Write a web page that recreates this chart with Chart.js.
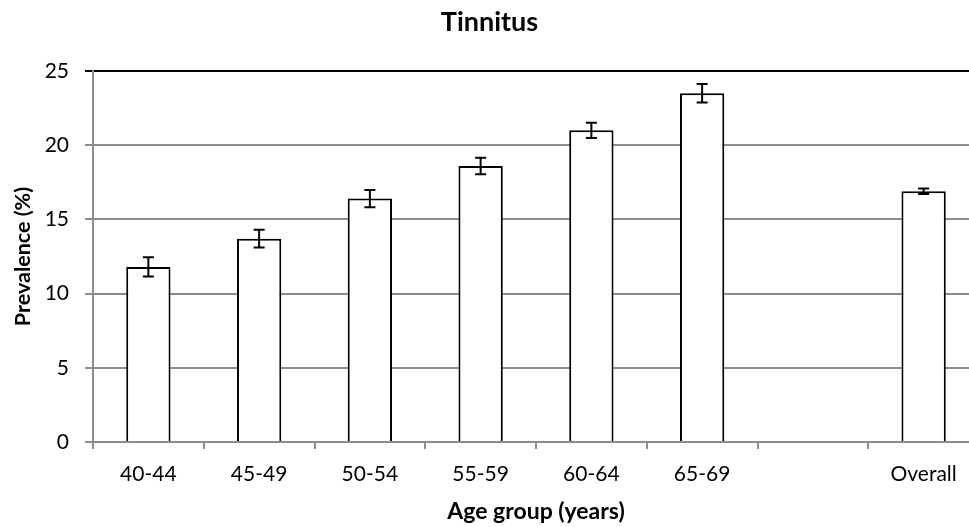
<!DOCTYPE html>
<html>
<head>
<meta charset="utf-8">
<script src="https://cdn.jsdelivr.net/npm/chart.js@4/dist/chart.umd.min.js"></script>
<style>
  html, body { margin: 0; padding: 0; background: #fff; overflow: hidden; }
  #wrap { width: 969px; height: 527px; overflow: hidden; }
</style>
</head>
<body>
<div id="wrap"><canvas id="chart" width="980" height="527"></canvas></div>
<script>
const categories = ["40-44", "45-49", "50-54", "55-59", "60-64", "65-69", "", "Overall"];
const prevalence = [11.8, 13.7, 16.4, 18.6, 21.0, 23.5, null, 16.9];
const errorMargin = [0.65, 0.6, 0.58, 0.56, 0.52, 0.63, null, 0.18];
const yTicks = [0, 5, 10, 15, 20, 25];

const FONT = "Lato, 'Open Sans', sans-serif";

// draws the I-shaped error bars on top of each bar
const errorBars = {
  id: "errorBars",
  afterDatasetsDraw(chart) {
    const ctx = chart.ctx;
    const meta = chart.getDatasetMeta(0);
    const y = chart.scales.y;
    ctx.save();
    ctx.strokeStyle = "#000";
    ctx.lineWidth = 2;
    meta.data.forEach((bar, i) => {
      const v = prevalence[i];
      const e = errorMargin[i];
      if (v == null || e == null) return;
      const top = y.getPixelForValue(v + e);
      const bottom = y.getPixelForValue(v - e);
      const cap = 5.5;
      ctx.beginPath();
      ctx.moveTo(bar.x, top);
      ctx.lineTo(bar.x, bottom);
      ctx.moveTo(bar.x - cap, top);
      ctx.lineTo(bar.x + cap, top);
      ctx.moveTo(bar.x - cap, bottom);
      ctx.lineTo(bar.x + cap, bottom);
      ctx.stroke();
    });
    ctx.restore();
  },
};

new Chart(document.getElementById("chart"), {
  type: "bar",
  data: {
    labels: categories,
    datasets: [
      {
        data: prevalence,
        backgroundColor: "#fff",
        borderColor: "#000",
        borderWidth: 2,
        borderSkipped: "start",
        barPercentage: 0.4,
        categoryPercentage: 1,
      },
    ],
  },
  options: {
    responsive: false,
    animation: false,
    layout: { padding: { left: 0, right: 1, top: 0, bottom: 0 } },
    plugins: {
      legend: { display: false },
      tooltip: { enabled: false },
      title: {
        display: true,
        text: "Tinnitus",
        color: "#000",
        font: { family: FONT, size: 27, weight: "bold", lineHeight: 1.2 },
        padding: { top: 6, bottom: 32.6 },
      },
    },
    scales: {
      x: {
        grid: {
          drawOnChartArea: false,
          drawTicks: true,
          tickLength: 7,
          color: "#8c8c8c",
          lineWidth: 2,
        },
        border: { color: "#8c8c8c", width: 2 },
        ticks: {
          color: "#000",
          padding: 13,
          maxRotation: 0,
          autoSkip: false,
          font: { family: FONT, size: 21 },
        },
        title: {
          display: true,
          text: "Age group (years)",
          color: "#000",
          padding: { top: 0, bottom: 2 },
          font: { family: FONT, size: 23, weight: "bold", lineHeight: 1.2 },
        },
        afterFit(scale) {
          scale.height = 85;
        },
      },
      y: {
        min: 0,
        max: 25,
        afterBuildTicks(scale) {
          scale.ticks = yTicks.map((v) => ({ value: v }));
        },
        grid: {
          color: (c) => (c.tick && c.tick.value === 25 ? "#000" : "#8c8c8c"),
          lineWidth: 2,
          tickLength: 8,
        },
        border: { color: "#8c8c8c", width: 2 },
        ticks: {
          color: "#000",
          padding: 16,
          font: { family: FONT, size: 21 },
        },
        title: {
          display: true,
          text: "Prevalence (%)",
          color: "#000",
          padding: { top: 10, bottom: 0 },
          font: { family: FONT, size: 21.5, weight: "bold", lineHeight: 1.2 },
        },
        afterFit(scale) {
          scale.width = 93;
        },
      },
    },
  },
  plugins: [errorBars],
});
</script>
</body>
</html>
